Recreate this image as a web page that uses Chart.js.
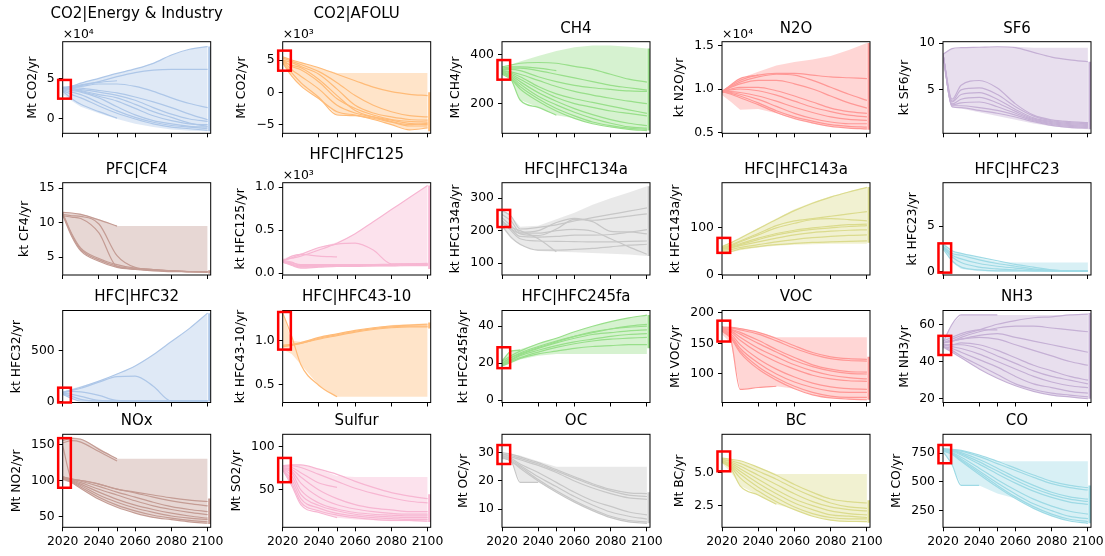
<!DOCTYPE html>
<html>
<head>
<meta charset="utf-8">
<script src="https://cdn.jsdelivr.net/npm/chart.js@4.4.1/dist/chart.umd.min.js"></script>
<style>
  html, body { margin: 0; padding: 0; background: #fff; }
  #fig { position: relative; width: 1105px; height: 556px; overflow: hidden; background: #fff; }
  #fig canvas { position: absolute; }
</style>
</head>
<body>
<div id="fig"></div>
<script>
// Años y ejes comunes
const years = [2020, 2025, 2030, 2040, 2050, 2060, 2070, 2080, 2090, 2100];
const xTicks = [2020, 2040, 2050, 2060, 2080, 2100];
const xTickLabels = ['2020', '2040', '', '2060', '2080', '2100'];
const boxYears = [2017.5, 2024.5];
const edgeYear = 2101;

// CO2|Energy & Industry (Mt CO2/yr)
const co2EnergyLines = [
  [38000, 40000, 44000, 50000, 56000, 61500, 68400, 78700, 85700, 89000],
  [38000, 39000, 41000, 46000, 52000, 57000, 60000, 61000, 61000, 61000],
  [38000, 39000, 40000, 43000, 43000, 40000, 34000, 26000, 19000, 14000],
  [38000, 40000, 42000, 45000, 47000, null, null, null, null, null],
  [39000, 38000, 35000, 30000, 26000, 18000, 9000, 2000, -5000, -9000],
  [37000, 35000, 33000, 26000, 15000, 5000, -2000, -6000, -9000, -10000],
  [38000, 37000, 36000, 33000, 29000, 23000, 14000, 6000, 0, -3000],
  [36000, 33000, 30000, 20000, 10000, 2000, -4000, -8000, -10000, -12000],
  [38000, 36000, 34000, 28000, 22000, 13000, 4000, -2000, -6000, -7000],
  [35000, 30000, 26000, 16000, 7000, 0, -6000, -10000, -12000, -14000],
  [34000, 25000, 18000, 9000, 1000, null, null, null, null, null],
  [39000, 39000, 38000, 35000, 32000, 27000, 21000, 14000, 6000, -1000]
];
const co2EnergyUpper = [40000, 41000, 44000, 50000, 56000, 61500, 68400, 78700, 85700, 89000];
const co2EnergyLower = [30000, 22000, 15000, 7000, 0, -6000, -10000, -13000, -14500, -15000];
const co2EnergyEdge = [-15000, 89000];
const co2EnergyBox = [25000, 48000];
const co2EnergyTicks = [0, 50000];
const co2EnergyTickLabels = ['0', '5'];

// CO2|AFOLU
const co2AfoluLines = [
  [5500, 5000, 4600, 3800, 2800, 1800, 800, 100, -300, -500],
  [5300, 4800, 4300, 3200, 1500, -500, -2000, -3000, -3600, -3800],
  [5000, 4600, 4000, 2800, 500, -2000, -3200, -3800, -4200, -4300],
  [5000, 4000, 3500, 1600, -1000, -2500, -3500, -4200, -4500, -4600],
  [4800, 3500, 2500, 500, -2000, -3200, -3800, -4300, -4800, -5000],
  [4500, 2500, 1000, -1000, -3000, -3500, -4000, -4600, -5200, -5200],
  [4600, 3000, 1500, -800, -3500, -3600, -4200, -5000, -5800, -5500],
  [4700, 4200, 3800, 2000, -500, -2800, -3800, -4500, -5000, -4800]
];
const co2AfoluUpper = [5500, 5000, 4600, 3800, 3000, 3000, 3000, 3000, 3000, 3000];
const co2AfoluLower = [4500, 2500, 1000, -1000, -3500, -3600, -4200, -5000, -5800, -5500];
const co2AfoluEdge = [-6000, 0];
const co2AfoluBox = [3350, 6450];
const co2AfoluTicks = [-5000, 0, 5000];
const co2AfoluTickLabels = ['\u22125', '0', '5'];

// CH4
const ch4Lines = [
  [350, 358, 365, 368, 365, 352, 340, 320, 300, 288],
  [345, 350, 350, 345, 335, null, null, null, null, null],
  [340, 345, 345, 335, 320, 305, 290, 275, 265, 255],
  [340, 340, 335, 310, 290, 275, 265, 258, 252, 250],
  [335, 330, 320, 295, 270, 250, 235, 222, 210, 200],
  [335, 325, 310, 270, 240, 220, 205, 190, 175, 160],
  [330, 320, 300, 260, 225, 200, 185, 170, 160, 150],
  [330, 315, 290, 245, 210, 180, 155, 135, 120, 110],
  [325, 310, 280, 230, 195, 165, 140, 120, 105, 100],
  [325, 305, 270, 220, 180, 150, 125, 110, 100, 95],
  [320, 300, 260, 210, 170, 140, 118, 105, 95, 90],
  [335, 300, 215, 185, 153, null, null, null, null, null]
];
const ch4Upper = [352, 360, 372, 395, 415, 430, 437, 437, 432, 425];
const ch4Lower = [320, 298, 215, 185, 153, 140, 118, 105, 95, 90];
const ch4Edge = [90, 425];
const ch4Box = [298, 378];
const ch4Ticks = [200, 400];
const ch4TickLabels = ['200', '400'];

// N2O (kt N2O/yr)
const n2oLines = [
  [9700, 10400, 11000, 11600, 11800, 11800, 11600, 11400, 11300, 11200],
  [9700, 10300, 10800, 11400, 11700, 11600, 11000, 10200, 9400, 8700],
  [9700, 10200, 10600, 11000, 11000, 10600, 10000, 9200, 8400, 7800],
  [9700, 10000, 10200, 10200, 9800, 9200, 8500, 7800, 7400, 7200],
  [9700, 9900, 10000, 9800, 9300, 8600, 7900, 7400, 7000, 6800],
  [9700, 9700, 9600, 9200, 8600, 7900, 7300, 6800, 6500, 6400],
  [9700, 9600, 9400, 8800, 8000, 7200, 6600, 6200, 6000, 6000],
  [9700, 9500, 9200, 8400, 7500, 6800, 6300, 5900, 5700, 5600],
  [9700, 9400, 9000, 8200, 7300, 6600, 6100, 5700, 5500, 5400],
  [9700, 10500, 11200, 11600, null, null, null, null, null, null]
];
const n2oUpper = [9800, 10500, 11200, 12000, 12700, 13100, 13400, 13800, 14500, 15300];
const n2oLower = [9300, 8500, 7600, 7700, 7200, 6500, 6000, 5700, 5500, 5300];
const n2oEdge = [5300, 15300];
const n2oTicks = [5000, 10000, 15000];
const n2oTickLabels = ['0.5', '1.0', '1.5'];

// SF6
const sf6Lines = [
  [8.8, 4.0, 5.5, 6.0, 5.2, 3.5, 2.3, 1.8, 1.6, 1.5],
  [8.8, 3.8, 5.0, 5.2, 4.5, 3.2, 2.2, 1.7, 1.5, 1.4],
  [8.8, 3.7, 4.5, 4.7, 4.0, 2.9, 2.0, 1.6, 1.4, 1.3],
  [8.8, 3.5, 4.0, 4.2, 3.6, 2.7, 1.9, 1.5, 1.3, 1.2],
  [8.8, 3.4, 3.6, 3.7, 3.2, 2.5, 1.8, 1.4, 1.2, 1.1],
  [8.8, 3.3, 3.3, 3.1, 2.8, 2.3, 1.7, 1.3, 1.1, 1.0],
  [8.8, 3.2, 3.1, 2.8, 2.5, 2.1, 1.6, 1.2, 1.0, 0.9],
  [8.8, 9.4, 9.5, 9.55, 9.6, 9.5, 9.0, 8.5, 8.2, 8.0]
];
const sf6Upper = [8.8, 9.4, 9.5, 9.55, 9.6, 9.6, 9.5, 9.5, 9.5, 9.5];
const sf6Lower = [7.6, 3.1, 3.0, 2.6, 2.2, 1.8, 1.4, 1.1, 0.9, 0.8];
const sf6Edge = [0.8, 8.0];
const sf6Ticks = [5, 10];
const sf6TickLabels = ['5', '10'];

// PFC|CF4
const cf4Lines = [
  [11.5, 11.4, 11.2, 10.4, 9.5, null, null, null, null, null],
  [11.2, 11.0, 10.9, 9.8, 5.2, 3.5, 3.2, 3.0, 2.9, 2.8],
  [11.0, 10.8, 10.6, 8.5, 3.6, 3.3, 3.1, 3.0, 2.9, 2.9],
  [11.3, 8.2, 6.1, 4.6, 3.7, 3.3, 3.1, 3.0, 2.9, 2.9],
  [11.1, 8.0, 5.9, 4.4, 3.5, 3.2, 3.0, 2.9, 2.9, 2.8],
  [11.4, 8.4, 6.3, 4.8, 3.9, 3.4, 3.2, 3.0, 2.9, 2.9]
];
const cf4Upper = [11.5, 11.4, 11.3, 10.5, 9.5, 9.5, 9.5, 9.5, 9.5, 9.5];
const cf4Lower = [11.0, 8.0, 5.9, 4.4, 3.5, 3.2, 3.0, 2.9, 2.85, 2.8];
const cf4Edge = [2.6, 3.1];
const cf4Ticks = [5, 10, 15];
const cf4TickLabels = ['5', '10', '15'];

// HFC|HFC125
const hfc125Lines = [
  [150, 175, 200, 270, 350, 460, 600, 740, 880, 1020],
  [150, 180, 220, 300, 340, 350, 270, 110, 110, 100],
  [140, 200, 220, 200, 190, null, null, null, null, null],
  [140, 120, 100, 100, 100, 100, 100, 100, 100, 100],
  [150, 130, 90, 90, 95, 95, 100, 105, 110, 115],
  [130, 100, 70, 80, 85, 88, 90, 92, 95, 95],
  [140, 110, 80, 85, 90, 92, 95, 100, 105, 110],
  [130, 90, 60, 70, 80, 80, 85, 85, 90, 90]
];
const hfc125Upper = [170, 200, 230, 300, 360, 460, 600, 740, 880, 1020];
const hfc125Lower = [130, 90, 60, 70, 75, 75, 80, 80, 85, 85];
const hfc125Edge = [50, 1020];
const hfc125Ticks = [0, 500, 1000];
const hfc125TickLabels = ['0.0', '0.5', '1.0'];

// HFC|HFC134a
const hfc134aLines = [
  [262, 245, 205, 210, 218, 230, 240, 250, 260, 270],
  [250, 230, 195, 200, 225, 238, 232, 238, 245, 252],
  [240, 215, 190, 185, 205, 235, 228, 198, 196, 190],
  [228, 205, 182, 180, 182, 186, 186, 188, 195, 203],
  [232, 200, 175, 168, 167, 166, 165, 165, 167, 168],
  [228, 210, 200, 175, 135, null, null, null, null, null],
  [215, 180, 158, 140, 140, 142, 145, 150, 155, 158],
  [222, 205, 192, 192, 200, 204, 198, 175, 150, 127]
];
const hfc134aUpper = [265, 245, 212, 215, 235, 255, 280, 300, 318, 337];
const hfc134aLower = [210, 175, 155, 137, 135, 133, 131, 129, 126, 122];
const hfc134aEdge = [122, 337];
const hfc134aBox = [211, 264];
const hfc134aTicks = [100, 200, 300];
const hfc134aTickLabels = ['100', '200', '300'];

// HFC|HFC143a
const hfc143aLines = [
  [60, 68, 78, 98, 118, 137, 153, 166, 177, 187],
  [58, 64, 72, 88, 105, 115, 120, 125, 130, 135],
  [57, 62, 70, 85, 100, 110, 118, 120, 118, 115],
  [56, 60, 66, 78, 88, 95, 100, 104, 107, 108],
  [55, 58, 64, 75, 85, 92, 97, 100, 103, 105],
  [54, 57, 62, 70, 78, 85, 90, 93, 95, 96],
  [52, 54, 58, 64, 70, 75, 79, 82, 84, 85],
  [50, 50, 55, 60, 64, 67, 69, 70, 71, 72]
];
const hfc143aUpper = [62, 70, 80, 100, 120, 140, 155, 168, 178, 188];
const hfc143aLower = [50, 48, 52, 58, 62, 64, 65, 66, 66, 66];
const hfc143aEdge = [68, 188];
const hfc143aBox = [46.5, 78.6];
const hfc143aTicks = [0, 100];
const hfc143aTickLabels = ['0', '100'];

// HFC|HFC23
const hfc23Lines = [
  [3.0, 2.3, 2.0, 1.6, 1.2, 0.8, 0.5, 0.2, 0.1, 0.1],
  [2.8, 2.0, 1.8, 1.3, 0.9, 0.6, 0.3, 0.15, 0.1, 0.1],
  [2.7, 1.8, 1.4, 0.9, 0.6, 0.4, 0.2, 0.1, 0.1, 0.1],
  [2.6, 1.6, 1.0, 0.5, 0.3, 0.2, 0.1, 0.1, 0.1, 0.1],
  [2.5, 1.2, 0.5, 0.2, 0.1, 0.1, 0.1, 0.1, 0.1, 0.1]
];
const hfc23Upper = [3.3, 2.2, 2.0, 1.5, 1.1, 1.0, 1.0, 1.0, 1.0, 1.0];
const hfc23Lower = [2.4, 1.0, 0.3, 0.05, 0.0, 0.0, 0.0, 0.0, 0.0, 0.0];
const hfc23Box = [-0.1, 3.1];
const hfc23Ticks = [0, 5];
const hfc23TickLabels = ['0', '5'];

// HFC|HFC32
const hfc32Lines = [
  [90, 115, 140, 200, 270, 350, 460, 590, 720, 870],
  [90, 110, 130, 190, 245, 250, 150, 5, 5, 5],
  [85, 100, 95, 60, 10, 5, 5, 5, 5, 5],
  [80, 70, 50, 10, 5, 5, 5, 5, 5, 5],
  [75, 50, 20, 5, 5, 5, 5, 5, 5, 5],
  [70, 30, 5, 5, 5, 5, 5, 5, 5, 5]
];
const hfc32Upper = [100, 125, 150, 200, 270, 350, 460, 590, 720, 870];
const hfc32Lower = [70, 30, 5, 0, 0, 0, 0, 0, 0, 0];
const hfc32Edge = [0, 870];
const hfc32Box = [-10, 136];
const hfc32Ticks = [0, 500];
const hfc32TickLabels = ['0', '500'];

// HFC|HFC43-10
const hfc4310Lines = [
  [1.32, 1.05, 0.73, 0.49, 0.36, null, null, null, null, null],
  [0.95, 0.96, 0.98, 1.04, 1.08, 1.12, 1.15, 1.17, 1.18, 1.19],
  [0.94, 0.95, 0.97, 1.02, 1.06, 1.1, 1.13, 1.15, 1.16, 1.16],
  [0.93, 0.95, 0.97, 1.03, 1.07, 1.11, 1.14, 1.16, 1.17, 1.17]
];
const hfc4310Upper = [1.32, 1.0, 0.99, 1.04, 1.08, 1.12, 1.15, 1.18, 1.19, 1.2];
const hfc4310Lower = [0.9, 0.85, 0.73, 0.49, 0.36, 0.36, 0.36, 0.36, 0.36, 0.36];
const hfc4310Edge = [1.14, 1.21];
const hfc4310Box = [0.9, 1.33];
const hfc4310Ticks = [0.5, 1.0];
const hfc4310TickLabels = ['0.5', '1.0'];

// HFC|HFC245fa
const hfc245faLines = [
  [21, 24, 26.5, 30.5, 33.5, 37, 40, 42.5, 44.5, 46],
  [20, 23, 25.5, 29, 32, 34.5, 36.5, 38.5, 40, 41],
  [20, 23, 25, 28.5, 31.5, 34.5, 37, 38.5, 39.5, 40],
  [19.5, 22, 24.5, 28, 31, 33.5, 35.5, 36.5, 37.5, 38],
  [19, 21.5, 24, 27, 29.5, 31.5, 33, 34.5, 35.5, 36],
  [19, 21, 23, 26, 28.5, 30.5, 32, 33, 33.5, 34],
  [18.5, 20.5, 22.5, 25, 26.5, 28, 29, 29.5, 30, 30],
  [21, 26.5, 27, null, null, null, null, null, null, null]
];
const hfc245faUpper = [22, 27, 27.5, 30.5, 33.5, 37, 40, 42.5, 44.5, 46];
const hfc245faLower = [18, 20, 22, 24, 25, 25, 25, 25, 25, 25];
const hfc245faEdge = [28, 46];
const hfc245faBox = [17.3, 28.6];
const hfc245faTicks = [0, 20, 40];
const hfc245faTickLabels = ['0', '20', '40'];

// VOC
const vocLines = [
  [176, 176, 174, 168, 158, 146, 135, 128, 125, 124],
  [175, 175, 172, 165, 154, 142, 132, 125, 122, 121],
  [174, 173, 168, 155, 140, 127, 115, 108, 104, 103],
  [174, 172, 165, 150, 136, 122, 112, 105, 101, 100],
  [173, 170, 160, 142, 128, 115, 105, 98, 94, 92],
  [172, 168, 155, 135, 120, 108, 98, 92, 89, 88],
  [172, 165, 148, 125, 108, 95, 85, 79, 76, 75],
  [171, 162, 142, 118, 100, 87, 78, 72, 70, 70],
  [170, 160, 138, 112, 94, 80, 70, 64, 62, 62],
  [170, 158, 135, 108, 90, 76, 66, 61, 59, 58],
  [178, 155, 75, 78, 80, null, null, null, null, null]
];
const vocUpper = [178, 177, 175, 168, 160, 160, 160, 160, 160, 160];
const vocLower = [165, 150, 75, 78, 80, 76, 66, 61, 59, 57];
const vocEdge = [58, 128];
const vocBox = [153, 187];
const vocTicks = [100, 150, 200];
const vocTickLabels = ['100', '150', '200'];

// NH3
const nh3Lines = [
  [50, 52, 54, 57, 60, 62, 63.5, 64, 65, 65.5],
  [50, 51, 53, 56, 58, 59, 59, 58, 57, 56],
  [50, 51, 52, 54, 55, 53, 51, 49, 47, 45],
  [50, 51, 52, 53, 52, 49, 46, 43, 40, 38],
  [49, 49, 50, 49, 46, 42, 38, 35, 32, 30],
  [49, 49, 49, 47, 43, 39, 35, 32, 30, 28],
  [49, 48, 47, 44, 40, 36, 32, 29, 27, 26],
  [48, 47, 45, 41, 37, 32, 28, 26, 24, 23],
  [48, 46, 43, 38, 33, 28, 25, 23, 22, 21],
  [48, 45, 42, 36, 31, 27, 24, 22, 21, 20],
  [51, 53, 55, 57, 57, null, null, null, null, null],
  [50, 60, 65, 65, 65, null, null, null, null, null]
];
const nh3Upper = [52, 60, 65, 65, 65, 65, 65, 65, 65, 65.5];
const nh3Lower = [47, 45, 42, 36, 31, 27, 24, 22, 21, 20];
const nh3Edge = [20, 66];
const nh3Box = [43.5, 53.8];
const nh3Ticks = [20, 40, 60];
const nh3TickLabels = ['20', '40', '60'];

// NOx (Mt NO2/yr)
const noxLines = [
  [155, 158, 157, 143, 130, null, null, null, null, null],
  [152, 155, 153, 140, 127, null, null, null, null, null],
  [148, 102, 100, 95, 88, 84, 80, 76, 73, 71],
  [105, 102, 100, 95, 88, 83, 77, 72, 68, 65],
  [105, 102, 99, 92, 84, 77, 70, 64, 60, 57],
  [104, 101, 97, 88, 80, 72, 65, 60, 56, 53],
  [104, 100, 95, 84, 74, 66, 60, 55, 51, 48],
  [103, 99, 93, 80, 70, 62, 56, 51, 48, 46],
  [103, 98, 91, 77, 66, 58, 52, 48, 45, 43],
  [102, 97, 89, 74, 63, 55, 49, 46, 43, 41]
];
const noxUpper = [158, 160, 158, 145, 130, 130, 130, 130, 130, 130];
const noxLower = [100, 97, 89, 74, 63, 55, 49, 46, 43, 41];
const noxEdge = [40, 75];
const noxBox = [90, 158.5];
const noxTicks = [50, 100, 150];
const noxTickLabels = ['50', '100', '150'];

// Sulfur (Mt SO2/yr)
const sulfurLines = [
  [78, 79, 79, 74, 68, 60, 53, 47, 43, 40],
  [77, 78, 76, 68, 60, 52, 46, 41, 37, 35],
  [77, 76, 70, 58, 53, null, null, null, null, null],
  [76, 74, 65, 50, 40, 33, 29, 27, 25, 25],
  [76, 72, 58, 42, 33, 28, 25, 23, 22, 22],
  [75, 70, 50, 35, 28, 24, 22, 21, 20, 20],
  [75, 66, 45, 32, 26, 22, 20, 19, 18, 18],
  [74, 62, 40, 29, 23, 20, 18, 17, 16, 16],
  [74, 58, 36, 26, 21, 18, 16, 15, 15, 14],
  [73, 55, 33, 24, 18, null, null, null, null, null]
];
const sulfurUpper = [79, 79, 79, 74, 66, 65, 65, 65, 65, 65];
const sulfurLower = [72, 55, 33, 24, 18, 16, 15, 14, 14, 13];
const sulfurEdge = [13, 45];
const sulfurBox = [59, 87];
const sulfurTicks = [50, 100];
const sulfurTickLabels = ['50', '100'];

// OC
const ocLines = [
  [30, 29.5, 28.5, 26.5, 24, 21.5, 19, 17, 15.8, 15.5],
  [29.5, 29, 28, 26, 23.5, 21, 18.5, 16.5, 15, 14.5],
  [29.5, 28.5, 27.5, 25.5, 23, 20, 17.5, 15.5, 14, 13.5],
  [29, 28, 26, 23, 19.5, 16, 13, 11, 9, 8],
  [29, 27.5, 25.5, 21.5, 18, 14.5, 11.5, 9, 7.5, 6.5],
  [28.5, 27, 25, 20.5, 16.5, 13, 10, 7.5, 6, 5.5],
  [28.5, 27, 24.5, 20, 16, 12.5, 9.5, 7, 5.5, 5],
  [28, 27, 19.5, 19.5, null, null, null, null, null, null]
];
const ocUpper = [30, 29.5, 29, 27, 25, 25, 25, 25, 25, 25];
const ocLower = [28, 27, 19.5, 19.5, 16, 12.5, 9.5, 7, 5.5, 5];
const ocEdge = [5, 16];
const ocBox = [26, 32.7];
const ocTicks = [10, 20, 30];
const ocTickLabels = ['10', '20', '30'];

// BC
const bcLines = [
  [6.1, 6.0, 5.9, 5.4, 4.8, 4.1, 3.5, 3.0, 2.8, 2.7],
  [6.0, 5.9, 5.7, 5.1, 4.5, 3.8, 3.2, 2.7, 2.4, 2.3],
  [6.0, 5.8, 5.5, 4.8, 4.1, 3.4, 2.8, 2.4, 2.2, 2.1],
  [5.9, 5.7, 5.3, 4.5, 3.7, 3.0, 2.5, 2.1, 1.9, 1.8],
  [5.9, 5.6, 5.1, 4.2, 3.4, 2.7, 2.2, 1.8, 1.7, 1.6],
  [5.9, 5.5, 4.9, 3.9, 3.1, 2.4, 1.9, 1.6, 1.5, 1.5],
  [5.8, 5.4, 4.6, 3.6, 2.8, 2.2, 1.7, 1.4, 1.3, 1.3],
  [5.8, 5.3, 4.0, 3.3, 2.6, null, null, null, null, null]
];
const bcUpper = [6.1, 6.0, 5.9, 5.4, 4.9, 4.9, 4.9, 4.9, 4.9, 4.9];
const bcLower = [5.7, 5.0, 4.0, 3.3, 2.6, 2.2, 1.7, 1.4, 1.3, 1.2];
const bcEdge = [1.2, 2.9];
const bcBox = [5.1, 6.6];
const bcTicks = [2.5, 5.0];
const bcTickLabels = ['2.5', '5.0'];

// CO
const coLines = [
  [790, 785, 775, 735, 680, 620, 560, 505, 470, 450],
  [785, 780, 768, 720, 660, 600, 540, 485, 450, 430],
  [785, 775, 755, 695, 620, 540, 470, 410, 370, 350],
  [780, 770, 745, 675, 595, 515, 445, 390, 350, 330],
  [780, 765, 735, 655, 570, 490, 420, 365, 325, 305],
  [775, 755, 715, 620, 520, 430, 350, 290, 245, 220],
  [775, 750, 700, 595, 490, 395, 310, 250, 200, 180],
  [770, 745, 690, 580, 470, 370, 285, 220, 175, 155],
  [770, 740, 680, 565, 455, 355, 270, 205, 160, 140],
  [765, 650, 470, 470, null, null, null, null, null, null]
];
const coUpper = [790, 785, 775, 735, 680, 680, 680, 680, 680, 680];
const coLower = [760, 650, 470, 470, 400, 355, 270, 205, 160, 140];
const coEdge = [140, 470];
const coBox = [663, 822];
const coTicks = [250, 500, 750];
const coTickLabels = ['250', '500', '750'];

// Colores (tab20 claros)
const palette = ['#aec7e8', '#ffbb78', '#98df8a', '#ff9896', '#c5b0d5',
                 '#c49c94', '#f7b6d2', '#c7c7c7', '#dbdb8d', '#9edae5'];

// Tabla de paneles construida con los arreglos anteriores
const panels = [
  {title: 'CO2|Energy & Industry', unit: 'Mt CO2/yr', lines: co2EnergyLines, upper: co2EnergyUpper, lower: co2EnergyLower, edge: co2EnergyEdge, box: co2EnergyBox, ticks: co2EnergyTicks, labels: co2EnergyTickLabels, range: [-17600, 95000], offset: '\u00d710\u2074', raised: true},
  {title: 'CO2|AFOLU', unit: 'Mt CO2/yr', lines: co2AfoluLines, upper: co2AfoluUpper, lower: co2AfoluLower, edge: co2AfoluEdge, box: co2AfoluBox, ticks: co2AfoluTicks, labels: co2AfoluTickLabels, range: [-6330, 7830], offset: '\u00d710\u00b3', raised: true},
  {title: 'CH4', unit: 'Mt CH4/yr', lines: ch4Lines, upper: ch4Upper, lower: ch4Lower, edge: ch4Edge, box: ch4Box, ticks: ch4Ticks, labels: ch4TickLabels, range: [79, 453]},
  {title: 'N2O', unit: 'kt N2O/yr', lines: n2oLines, upper: n2oUpper, lower: n2oLower, edge: n2oEdge, box: null, ticks: n2oTicks, labels: n2oTickLabels, range: [4900, 15450], offset: '\u00d710\u2074'},
  {title: 'SF6', unit: 'kt SF6/yr', lines: sf6Lines, upper: sf6Upper, lower: sf6Lower, edge: sf6Edge, box: null, ticks: sf6Ticks, labels: sf6TickLabels, range: [0.36, 10.14]},
  {title: 'PFC|CF4', unit: 'kt CF4/yr', lines: cf4Lines, upper: cf4Upper, lower: cf4Lower, edge: cf4Edge, box: null, ticks: cf4Ticks, labels: cf4TickLabels, range: [2.4, 15.8]},
  {title: 'HFC|HFC125', unit: 'kt HFC125/yr', lines: hfc125Lines, upper: hfc125Upper, lower: hfc125Lower, edge: hfc125Edge, box: null, ticks: hfc125Ticks, labels: hfc125TickLabels, range: [-20, 1053], offset: '\u00d710\u00b3', raised: true},
  {title: 'HFC|HFC134a', unit: 'kt HFC134a/yr', lines: hfc134aLines, upper: hfc134aUpper, lower: hfc134aLower, edge: hfc134aEdge, box: hfc134aBox, ticks: hfc134aTicks, labels: hfc134aTickLabels, range: [63, 348]},
  {title: 'HFC|HFC143a', unit: 'kt HFC143a/yr', lines: hfc143aLines, upper: hfc143aUpper, lower: hfc143aLower, edge: hfc143aEdge, box: hfc143aBox, ticks: hfc143aTicks, labels: hfc143aTickLabels, range: [-1, 197]},
  {title: 'HFC|HFC23', unit: 'kt HFC23/yr', lines: hfc23Lines, upper: hfc23Upper, lower: hfc23Lower, edge: null, box: hfc23Box, ticks: hfc23Ticks, labels: hfc23TickLabels, range: [-0.36, 9.74]},
  {title: 'HFC|HFC32', unit: 'kt HFC32/yr', lines: hfc32Lines, upper: hfc32Upper, lower: hfc32Lower, edge: hfc32Edge, box: hfc32Box, ticks: hfc32Ticks, labels: hfc32TickLabels, range: [-10, 896]},
  {title: 'HFC|HFC43-10', unit: 'kt HFC43-10/yr', lines: hfc4310Lines, upper: hfc4310Upper, lower: hfc4310Lower, edge: hfc4310Edge, box: hfc4310Box, ticks: hfc4310Ticks, labels: hfc4310TickLabels, range: [0.295, 1.347]},
  {title: 'HFC|HFC245fa', unit: 'kt HFC245fa/yr', lines: hfc245faLines, upper: hfc245faUpper, lower: hfc245faLower, edge: hfc245faEdge, box: hfc245faBox, ticks: hfc245faTicks, labels: hfc245faTickLabels, range: [-1.3, 48.5]},
  {title: 'VOC', unit: 'Mt VOC/yr', lines: vocLines, upper: vocUpper, lower: vocLower, edge: vocEdge, box: vocBox, ticks: vocTicks, labels: vocTickLabels, range: [53.5, 203.6]},
  {title: 'NH3', unit: 'Mt NH3/yr', lines: nh3Lines, upper: nh3Upper, lower: nh3Lower, edge: nh3Edge, box: nh3Box, ticks: nh3Ticks, labels: nh3TickLabels, range: [18, 67.4]},
  {title: 'NOx', unit: 'Mt NO2/yr', lines: noxLines, upper: noxUpper, lower: noxLower, edge: noxEdge, box: noxBox, ticks: noxTicks, labels: noxTickLabels, range: [35.4, 163.8]},
  {title: 'Sulfur', unit: 'Mt SO2/yr', lines: sulfurLines, upper: sulfurUpper, lower: sulfurLower, edge: sulfurEdge, box: sulfurBox, ticks: sulfurTicks, labels: sulfurTickLabels, range: [6.9, 114.3]},
  {title: 'OC', unit: 'Mt OC/yr', lines: ocLines, upper: ocUpper, lower: ocLower, edge: ocEdge, box: ocBox, ticks: ocTicks, labels: ocTickLabels, range: [3.6, 36.5]},
  {title: 'BC', unit: 'Mt BC/yr', lines: bcLines, upper: bcUpper, lower: bcLower, edge: bcEdge, box: bcBox, ticks: bcTicks, labels: bcTickLabels, range: [0.86, 7.9]},
  {title: 'CO', unit: 'Mt CO/yr', lines: coLines, upper: coUpper, lower: coLower, edge: coEdge, box: coBox, ticks: coTicks, labels: coTickLabels, range: [105, 915]}
];

// Posición de cada área de gráfico en la figura
const colLeft = [62.7, 282.7, 502, 722, 943];
const plotWidth = 148;
const rowTop = [41.7, 182.7, 310.5, 434.3];
const rowBottom = [133.3, 275, 402.5, 527.3];
const canvasLeft = [0, 220, 440, 660, 880];
const canvasTop = [0, 141, 269, 392];
const FONT = 'DejaVu Sans';

Chart.defaults.font.family = FONT;
Chart.defaults.color = '#000';

function rgba(hex, a) {
  const n = parseInt(hex.slice(1), 16);
  return 'rgba(' + (n >> 16) + ',' + ((n >> 8) & 255) + ',' + (n & 255) + ',' + a + ')';
}

// Marco, título, recuadro rojo y texto de escala (×10ⁿ)
const framePlugin = {
  id: 'frame',
  afterDraw(chart, args, opts) {
    const {ctx, chartArea: a} = chart;
    const x = chart.scales.x, y = chart.scales.y;
    ctx.save();
    ctx.strokeStyle = '#000';
    ctx.lineWidth = 1;
    ctx.strokeRect(a.left, a.top, a.right - a.left, a.bottom - a.top);
    if (opts.box) {
      const x0 = x.getPixelForValue(boxYears[0]);
      const x1 = x.getPixelForValue(boxYears[1]);
      const y0 = y.getPixelForValue(opts.box[0]);
      const y1 = y.getPixelForValue(opts.box[1]);
      ctx.strokeStyle = '#ff0000';
      ctx.lineWidth = 2.5;
      ctx.strokeRect(x0, y1, x1 - x0, y0 - y1);
    }
    ctx.fillStyle = '#000';
    if (opts.offset) {
      ctx.font = '12.4px "' + FONT + '"';
      ctx.textAlign = 'left';
      ctx.textBaseline = 'alphabetic';
      ctx.fillText(opts.offset, a.left, a.top - 4);
    }
    ctx.font = '15px "' + FONT + '"';
    ctx.textAlign = 'center';
    ctx.textBaseline = 'middle';
    ctx.fillText(opts.title, (a.left + a.right) / 2, a.top - (opts.raised ? 28 : 13));
    ctx.restore();
  }
};

const fig = document.getElementById('fig');

panels.forEach(function(p, i) {
  const col = i % 5, row = Math.floor(i / 5);
  const color = palette[i % 10];
  const canvas = document.createElement('canvas');
  canvas.width = 240;
  canvas.height = 170;
  canvas.style.left = canvasLeft[col] + 'px';
  canvas.style.top = canvasTop[row] + 'px';
  canvas.style.width = '240px';
  canvas.style.height = '170px';
  fig.appendChild(canvas);

  const target = {
    left: colLeft[col] - canvasLeft[col],
    right: colLeft[col] - canvasLeft[col] + plotWidth,
    top: rowTop[row] - canvasTop[row],
    bottom: rowBottom[row] - canvasTop[row]
  };

  const datasets = p.lines.map(v => ({
    data: v, borderColor: color, borderWidth: 1.2, pointRadius: 0,
    fill: false, order: 2, cubicInterpolationMode: 'monotone'
  }));
  // Banda (superior rellena hasta la inferior)
  datasets.push({data: p.upper, borderColor: 'rgba(0,0,0,0)', borderWidth: 0, pointRadius: 0,
    fill: '+1', backgroundColor: rgba(color, 0.4), order: 3, tension: 0});
  datasets.push({data: p.lower, borderColor: 'rgba(0,0,0,0)', borderWidth: 0, pointRadius: 0,
    fill: false, order: 3, tension: 0});
  if (p.edge) {
    datasets.push({data: [{x: edgeYear, y: p.edge[0]}, {x: edgeYear, y: p.edge[1]}],
      borderColor: color, borderWidth: 2.5, pointRadius: 0, fill: false, order: 1});
  }

  const axisGrid = {display: true, drawOnChartArea: false, drawTicks: true, tickLength: 4, tickColor: '#000', lineWidth: 1};
  const tickFont = {family: FONT, size: 12.4};

  const chart = new Chart(canvas, {
    type: 'line',
    data: {labels: years, datasets: datasets},
    plugins: [framePlugin],
    options: {
      responsive: false,
      animation: false,
      events: [],
      layout: {padding: {left: 0, right: 10, top: 20, bottom: 0}},
      scales: {
        x: {
          type: 'linear', min: 2020, max: 2101.7,
          afterBuildTicks: s => { s.ticks = xTicks.map(v => ({value: v})); },
          ticks: {
            autoSkip: false, maxRotation: 0, padding: 3, color: '#000', font: tickFont,
            callback: (v, idx) => row === 3 ? xTickLabels[idx] : ''
          },
          grid: axisGrid,
          border: {display: false}
        },
        y: {
          type: 'linear', min: p.range[0], max: p.range[1],
          afterBuildTicks: s => { s.ticks = p.ticks.map(v => ({value: v})); },
          ticks: {
            autoSkip: false, padding: 4, color: '#000', font: tickFont,
            callback: (v, idx) => p.labels[idx]
          },
          grid: axisGrid,
          border: {display: false},
          title: {display: true, text: p.unit, color: '#000', font: {family: FONT, size: 12.4},
            padding: {top: 0, bottom: 3}}
        }
      },
      plugins: {
        legend: {display: false},
        tooltip: {enabled: false},
        title: {display: false},
        frame: {box: p.box, offset: p.offset, title: p.title, raised: !!p.raised}
      }
    }
  });

  // Ajustamos el padding para que el área coincida con la figura
  for (let k = 0; k < 3; k++) {
    const a = chart.chartArea;
    const pad = chart.options.layout.padding;
    pad.left += target.left - a.left;
    pad.right += a.right - target.right;
    pad.top += target.top - a.top;
    pad.bottom += a.bottom - target.bottom;
    chart.update('none');
  }
});
</script>
</body>
</html>
